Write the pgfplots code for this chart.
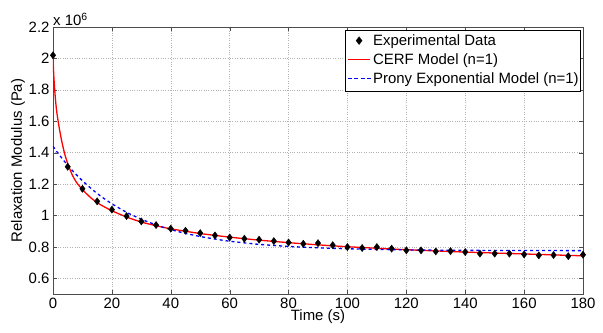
\documentclass[border=0pt]{standalone}
\usepackage{fontspec}
\setmainfont{Liberation Sans}
\newfontfamily\diamfont{DejaVu Sans}
\usepackage{pgfplots}
\pgfplotsset{compat=1.18}
\pgfplotstableread{
t E
0 2.02
5 1.31
10 1.17
15 1.09
20 1.037
25 0.996
30 0.962
35 0.939
40 0.916
45 0.903
50 0.888
55 0.873
60 0.860
65 0.852
70 0.846
75 0.837
80 0.828
85 0.820
90 0.824
95 0.811
100 0.799
105 0.793
110 0.799
115 0.789
120 0.778
125 0.778
130 0.771
135 0.773
140 0.767
145 0.757
150 0.757
155 0.757
160 0.752
165 0.746
170 0.748
175 0.741
180 0.750
}\expdata
\pgfplotstableread{
t E
0 2.0
0.3 1.88
0.7 1.77
1.2 1.67
2 1.57
3 1.47
4 1.39
5 1.33
6.5 1.26
8 1.21
10 1.165
13 1.11
16 1.07
20 1.03
25 0.99
30 0.958
35 0.935
40 0.915
50 0.885
60 0.862
70 0.843
80 0.827
90 0.813
100 0.801
120 0.782
140 0.767
160 0.755
180 0.743
}\cerf
\pgfplotstableread{
t E
0 1.440
2 1.389
4 1.342
6 1.298
8 1.258
10 1.221
12 1.187
15 1.140
18 1.099
21 1.063
25 1.020
30 0.976
35 0.940
40 0.910
45 0.886
50 0.866
55 0.850
60 0.836
70 0.816
80 0.803
90 0.794
100 0.788
110 0.784
120 0.781
140 0.778
160 0.777
180 0.776
}\prony
\begin{document}
\begin{tikzpicture}
\begin{axis}[
  name=ax,
  at={(0,0)}, anchor=south west,
  scale only axis, width=530bp, height=267bp,
  xmin=0, xmax=180, ymin=0.5, ymax=2.2,
  xtick={0,20,...,180},
  ytick={0.6,0.8,1,1.2,1.4,1.6,1.8,2,2.2},
  scaled ticks=false,
  /pgf/number format/assume math mode=true,
  grid=major,
  grid style={dotted, gray!60, line width=0.5pt},
  tick align=inside,
  major tick length=4bp,
  axis line style={gray!60!black},
  tick style={gray!60!black},
  ticklabel style={font=\fontsize{15}{17}\selectfont},
  label style={font=\fontsize{15}{17}\selectfont},
  xticklabel style={yshift=-1bp},
  xlabel={Time (s)},
  ylabel={Relaxation Modulus (Pa)},
  xlabel style={yshift=6bp},
  ylabel style={yshift=-3bp},
]
\addplot[only marks, mark=diamond*, mark size=3.6pt, black] table[x=t,y=E]{\expdata};
\addplot[draw=red, line width=1.3pt, smooth, tension=0.4] table[x=t,y=E]{\cerf};
\addplot[draw=blue, line width=1.3pt, dashed, smooth, tension=0.4] table[x=t,y=E]{\prony};
\end{axis}
\node[anchor=south west, inner sep=0pt, yshift=1bp, font=\fontsize{15}{17}\selectfont] at (ax.north west) {x 10\textsuperscript{6}};
\node[anchor=north east, draw=black, fill=white, inner sep=2bp, line width=0.6pt,
      font=\fontsize{15}{17}\selectfont] at ([xshift=-2bp,yshift=-3bp]ax.north east) {%
  \renewcommand{\arraystretch}{1.12}%
  \begin{tabular}{@{}c@{\hspace{2bp}}l@{}}
  {\diamfont\fontsize{12}{12}\selectfont ♦} & Experimental Data\\
  \textcolor{red}{\rule[0.3em]{22bp}{1.1pt}} & CERF Model (n=1)\\
  \textcolor{blue}{\rule[0.3em]{4bp}{1.1pt}\hspace{2.5bp}\rule[0.3em]{4bp}{1.1pt}\hspace{2.5bp}\rule[0.3em]{4bp}{1.1pt}\hspace{2.5bp}\rule[0.3em]{4bp}{1.1pt}} & Prony Exponential Model (n=1)
  \end{tabular}};
\pgfresetboundingbox
\path[use as bounding box] (-53bp,-39bp) rectangle (550bp,294bp);
\end{tikzpicture}
\end{document}
